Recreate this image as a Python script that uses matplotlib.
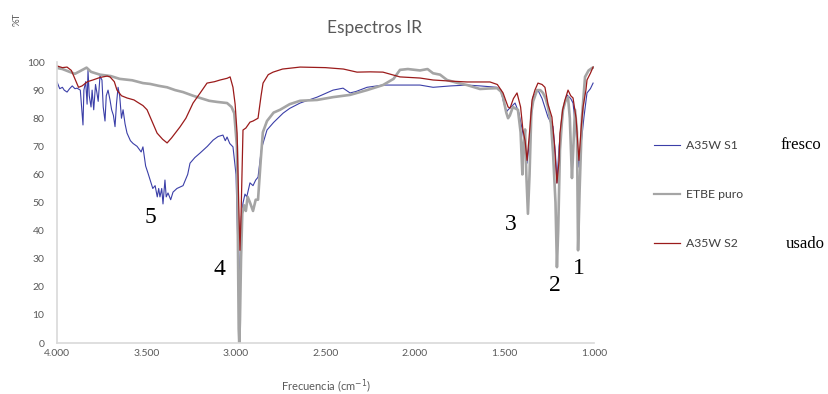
import numpy as np
import matplotlib
matplotlib.use("Agg")
import matplotlib.pyplot as plt

plt.rcParams.update({
    "font.family": ["Lato", "DejaVu Sans"],
    "mathtext.fontset": "dejavusans",
})

# wavenumber (cm-1) and %T
s1_wn = [4000, 3985, 3970, 3960, 3944, 3930, 3915, 3900, 3888, 3870, 3860, 3855, 3850, 3840,
         3832, 3827, 3820, 3810, 3804, 3795, 3785, 3777, 3770, 3760, 3749, 3742, 3732, 3725,
         3715, 3704, 3695, 3685, 3676, 3668, 3659, 3650, 3640, 3631, 3620, 3609, 3590, 3575,
         3553, 3530, 3520, 3505, 3492, 3480, 3465, 3452, 3440, 3432, 3425, 3415, 3408, 3397,
         3390, 3380, 3365, 3352, 3330, 3296, 3270, 3257, 3230, 3201, 3160, 3128, 3100, 3073,
         3060, 3050, 3035, 3017, 3000, 2990, 2983, 2978, 2970, 2961, 2950, 2940, 2922, 2905,
         2890, 2877, 2860, 2855, 2827, 2790, 2737, 2700, 2642, 2547, 2458, 2402, 2363, 2330,
         2268, 2179, 2084, 1972, 1899, 1800, 1709, 1637, 1542, 1520, 1508, 1490, 1480, 1441,
         1420, 1397, 1385, 1374, 1360, 1341, 1313, 1290, 1257, 1229, 1215, 1207, 1195, 1179,
         1162, 1151, 1130, 1117, 1100, 1084, 1070, 1056, 1039, 1020, 1005]
s1_t = [92.9, 90.5, 91, 90, 89.3, 90.5, 91.5, 90.5, 90.7, 90, 82, 77.6, 90, 93,
        85, 97, 88, 84, 90, 83, 92, 89, 86, 95, 93.6, 84, 79, 88,
        90, 86.5, 83, 81, 77, 85, 91, 88, 80, 83, 78, 74.7, 72, 71,
        70, 68, 69.8, 63, 60.5, 58, 55, 56, 52, 55, 52, 55, 49.5, 58,
        52, 53.4, 51, 53.7, 55, 56, 60, 64, 66, 67.6, 70, 72.2, 73.5, 74,
        72, 73.3, 71, 69.8, 60, 35, 20, 30, 45, 49.8, 53, 52, 57, 56,
        58, 59, 68, 69.8, 75.8, 78.5, 81.8, 83.5, 85.4, 87.5, 90, 90.7, 89, 89.5,
        91, 91.8, 91.8, 91.8, 91, 91.5, 91.8, 91.5, 91, 90, 86.5, 82.2, 83, 85.4,
        82, 74.7, 68.7, 64, 72, 87.5, 90, 87, 80.4, 77, 67, 57, 70, 80.4,
        86, 88.3, 87, 85.4, 75, 62.6, 72, 80.4, 89, 90.5, 92.5]

etbe_wn = [4000, 3970, 3930, 3900, 3870, 3835, 3810, 3760, 3700, 3650, 3580, 3520, 3480, 3430,
           3385, 3340, 3296, 3240, 3200, 3150, 3106, 3050, 3025, 3010, 2995, 2990, 2985, 2982,
           2978, 2972, 2965, 2955, 2945, 2935, 2922, 2905, 2890, 2877, 2862, 2850, 2827, 2790,
           2754, 2700, 2642, 2547, 2458, 2363, 2268, 2179, 2120, 2084, 2040, 1972, 1930, 1899,
           1860, 1821, 1760, 1709, 1637, 1581, 1542, 1520, 1508, 1490, 1480, 1470, 1453, 1440,
           1425, 1410, 1400, 1395, 1385, 1378, 1369, 1360, 1350, 1340, 1318, 1300, 1285, 1270,
           1257, 1240, 1229, 1215, 1207, 1200, 1190, 1180, 1173, 1160, 1145, 1135, 1123, 1115,
           1106, 1095, 1089, 1080, 1067, 1050, 1030, 1010, 1005]
etbe_t = [97.9, 97.5, 96.5, 95.8, 96.8, 98.0, 96.5, 95.5, 95.0, 94.0, 93.5, 92.5, 92.2, 91.5,
          91.0, 90.0, 89.3, 88.0, 87.2, 86.2, 85.8, 85.4, 84.0, 81.8, 70, 40, 5, 0,
          8, 30, 46, 49, 47, 52, 50, 47, 51, 51, 65, 75, 79, 82,
          83, 85, 86.2, 86.5, 87.5, 88.3, 90.0, 91.8, 94, 97.2, 97.5, 97.0, 97.5, 96.0,
          95.5, 93.6, 92.5, 91.8, 90.4, 90.6, 90.7, 89.5, 87.5, 82, 80, 81, 84, 83.5,
          83, 75, 60, 70, 76, 60, 46, 60, 82, 86, 90, 90, 89, 87,
          84, 78, 68, 50, 27, 40, 68.7, 78, 83, 86, 87.5, 80, 58.7, 70,
          83, 75, 33, 55, 80.4, 94.7, 97, 97.9, 98]

s2_wn = [4000, 3970, 3944, 3920, 3900, 3880, 3860, 3830, 3800, 3760, 3720, 3704, 3680, 3665,
         3640, 3609, 3570, 3553, 3520, 3497, 3470, 3441, 3410, 3385, 3360, 3313, 3280, 3240,
         3200, 3162, 3120, 3089, 3050, 3033, 3017, 3005, 2994, 2985, 2978, 2972, 2961, 2945,
         2922, 2905, 2877, 2860, 2849, 2820, 2793, 2740, 2642, 2500, 2400, 2324, 2250, 2179,
         2084, 1972, 1899, 1800, 1709, 1637, 1581, 1540, 1508, 1480, 1469, 1450, 1430, 1410,
         1397, 1385, 1374, 1360, 1346, 1330, 1313, 1290, 1274, 1257, 1235, 1220, 1207, 1195,
         1190, 1175, 1162, 1145, 1130, 1117, 1100, 1084, 1070, 1061, 1045, 1039, 1020, 1005]
s2_t = [98.6, 98.0, 98.2, 97, 94, 91, 91.5, 93, 93.6, 94.5, 95, 94.7, 93, 90,
        88, 87.2, 86.5, 85.8, 84.5, 83, 79, 74.7, 72.5, 71.2, 73, 76.9, 80, 85.4,
        89, 92.5, 93, 93.6, 94.2, 94.7, 91, 85, 74.7, 50, 33, 45, 75.8, 76.5,
        78.6, 79, 80, 88, 92.5, 95.5, 96.4, 97.5, 98.2, 98, 97.5, 96.4, 96.5, 96.4,
        94.7, 94.3, 93.6, 93.2, 92.9, 92.9, 92.9, 92, 89, 84, 83.6, 87, 89, 84,
        75.8, 72, 65, 75, 86.5, 90, 92.5, 92, 91, 85, 80.4, 70, 56.9, 65,
        74.7, 83, 86.5, 90, 88, 87.2, 80, 65, 78, 84, 90, 93.6, 96, 98.2]

xticks = [4000, 3500, 3000, 2500, 2000, 1500, 1000]
xtick_labels = ["4.000", "3.500", "3.000", "2.500", "2.000", "1.500", "1.000"]

peak_labels = ["5", "4", "3", "2", "1"]
peak_pos = [(3480, 44.5), (3095, 26), (1463, 42), (1218, 20.5), (1084, 26.5)]

fig = plt.figure(figsize=(8.29, 3.94), dpi=100)
ax = fig.add_axes([0.0688, 0.1294, 0.6477, 0.7132])

ax.plot(s1_wn, s1_t, color="#3b3fa8", lw=0.8, label="A35W S1")
ax.plot(etbe_wn, etbe_t, color="#a5a5a5", lw=1.9, label="ETBE puro")
ax.plot(s2_wn, s2_t, color="#9b1b1b", lw=0.9, label="A35W S2")

ax.set_xlim(4000, 1000)
ax.set_ylim(0, 100)
ax.set_yticks(range(0, 101, 10))
ax.set_xticks(xticks)
ax.set_xticklabels(xtick_labels)
ax.tick_params(length=0, labelsize=7.5, colors="#595959")
ax.tick_params(axis="y", pad=9)
ax.tick_params(axis="x", pad=4)
for s in ["top", "right"]:
    ax.spines[s].set_visible(False)
for s in ["left", "bottom"]:
    ax.spines[s].set_color("#d9d9d9")
    ax.spines[s].set_linewidth(1.2)

ax.set_xlabel("Frecuencia (cm$^{-1}$)", fontsize=8, color="#595959", labelpad=14)
fig.text(0.021, 0.95, "%T", rotation=90, fontsize=7, color="#595959", ha="center", va="center")
fig.text(0.452, 0.928, "Espectros IR", fontsize=12.5, color="#595959", ha="center", va="center")

for lab, (px, py) in zip(peak_labels, peak_pos):
    ax.text(px, py, lab, fontsize=17, family="Liberation Serif", ha="center", va="center")

leg = ax.legend(loc="upper left", bbox_to_anchor=(0.781, 0.66), bbox_transform=fig.transFigure,
                frameon=False, fontsize=8.8, handlelength=2.2, labelspacing=3.1, borderpad=0,
                handletextpad=0.45)
for t in leg.get_texts():
    t.set_color("#404040")
leg.get_lines()[1].set_linewidth(1.6)

fig.text(0.966, 0.632, "fresco", fontsize=12, family="Liberation Serif", ha="center", va="center")
fig.text(0.971, 0.381, "usado", fontsize=12, family="Liberation Serif", ha="center", va="center")

fig.savefig("out.png", dpi=100)
